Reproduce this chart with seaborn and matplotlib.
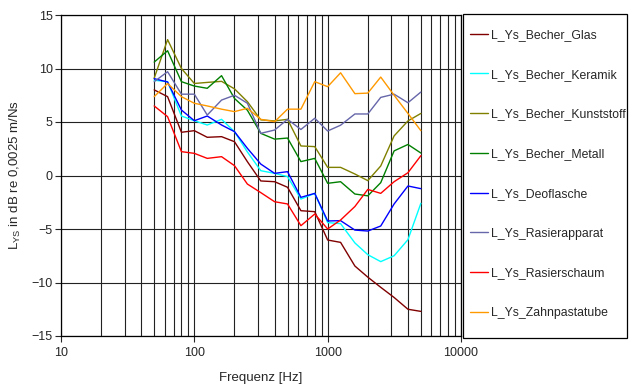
import numpy as np
import pandas as pd
import matplotlib
matplotlib.use("Agg")
import matplotlib.pyplot as plt
from matplotlib.patches import Rectangle
import seaborn as sns

freqs = [50, 63, 80, 100, 125, 160, 200, 250, 315, 400, 500, 630, 800,
         1000, 1250, 1600, 2000, 2500, 3150, 4000, 5000]

glas = [8.0, 7.37, 4.04, 4.19, 3.57, 3.63, 3.16, 1.29, -0.51, -0.58, -1.1,
        -3.29, -3.38, -6.03, -6.25, -8.46, -9.5, -10.45, -11.4, -12.5, -12.7]
keramik = [8.9, 8.77, 5.56, 5.12, 4.72, 5.25, 4.1, 2.2, 0.45, 0.2, -0.1,
           -2.2, -1.67, -4.4, -4.5, -6.3, -7.4, -8.05, -7.5, -6.0, -2.6]
kunststoff = [9.1, 12.7, 10.0, 8.6, 8.7, 8.8, 8.1, 6.9, 5.2, 5.1, 5.25,
              2.76, 2.7, 0.76, 0.76, 0.14, -0.48, 0.89, 3.7, 5.1, 5.8]
metall = [10.6, 11.66, 8.77, 8.36, 8.15, 9.33, 7.2, 6.1, 3.94, 3.4, 3.5,
          1.3, 1.6, -0.73, -0.58, -1.73, -1.9, -0.67, 2.3, 2.9, 2.1]
deoflasche = [9.05, 8.74, 6.12, 5.12, 5.56, 4.72, 4.1, 2.54, 1.07, 0.2, 0.36,
              -2.04, -1.67, -4.25, -4.22, -5.1, -5.19, -4.72, -2.66, -0.98, -1.23]
rasierapparat = [8.77, 9.7, 7.6, 7.6, 5.65, 7.05, 7.5, 6.75, 3.94, 4.25, 5.25,
                 4.3, 5.35, 4.16, 4.7, 5.75, 5.75, 7.3, 7.6, 6.8, 7.8]
rasierschaum = [6.5, 5.5, 2.23, 2.07, 1.6, 1.76, 0.92, -0.8, -1.6, -2.45, -2.66,
                -4.69, -3.6, -5.0, -4.16, -2.9, -1.3, -1.67, -0.58, 0.26, 1.85]
zahnpastatube = [7.37, 8.6, 7.37, 6.75, 6.5, 6.2, 5.97, 6.28, 5.25, 5.03, 6.2,
                 6.2, 8.77, 8.3, 9.6, 7.65, 7.7, 9.2, 7.5, 5.8, 4.19]

names = ["L_Ys_Becher_Glas", "L_Ys_Becher_Keramik", "L_Ys_Becher_Kunststoff",
         "L_Ys_Becher_Metall", "L_Ys_Deoflasche", "L_Ys_Rasierapparat",
         "L_Ys_Rasierschaum", "L_Ys_Zahnpastatube"]
series = [glas, keramik, kunststoff, metall, deoflasche, rasierapparat,
          rasierschaum, zahnpastatube]
colors = ["#800000", "#00FFFF", "#808000", "#008000", "#0000FF", "#6666AA",
          "#FF0000", "#FF9900"]

df = pd.concat([pd.DataFrame({"f": freqs, "L": v, "Serie": n})
                for n, v in zip(names, series)], ignore_index=True)

sns.set_style("white")
plt.rcParams["font.family"] = ["Liberation Sans", "DejaVu Sans"]
plt.rcParams["mathtext.fontset"] = "custom"
plt.rcParams["mathtext.rm"] = "Liberation Sans"
plt.rcParams["mathtext.it"] = "Liberation Sans"

W, H = 629, 385
fig = plt.figure(figsize=(W/100, H/100), dpi=100)
ax = fig.add_axes([61/W, 1-336/H, 400/W, 321/H])

sns.lineplot(data=df, x="f", y="L", hue="Serie", palette=dict(zip(names, colors)),
             ax=ax, linewidth=1.0, legend=False)

ax.set_xscale("log")
ax.set_xlim(10, 10000)
ax.set_ylim(-15, 15)
ax.set_yticks(np.arange(-15, 16, 5))
ax.set_xticks([10, 100, 1000, 10000])
ax.set_xticklabels(["10", "100", "1000", "10000"])
ax.xaxis.set_minor_locator(matplotlib.ticker.LogLocator(base=10, subs=np.arange(2, 10)))
ax.xaxis.set_minor_formatter(matplotlib.ticker.NullFormatter())
ax.grid(True, which="both", axis="x", color="#222222", linewidth=0.8)
ax.grid(True, which="major", axis="y", color="#222222", linewidth=0.8)
ax.set_axisbelow(True)
for s in ax.spines.values():
    s.set_color("black")
    s.set_linewidth(0.9)
ax.tick_params(axis="y", which="major", direction="out", length=4, width=0.8,
               left=True, labelsize=9, pad=2)
ax.tick_params(axis="x", which="major", direction="out", length=4, width=0.8,
               bottom=True, labelsize=9, pad=4)
ax.tick_params(axis="x", which="minor", length=0)
ax.set_xlabel("Frequenz [Hz]", fontsize=9.5, labelpad=9)
ax.set_ylabel(r"L$_{\mathrm{YS}}$ in dB re 0,0025 m/Ns", fontsize=9.5, labelpad=6)

# legend frame
fig.patches.append(Rectangle((463/W, 1-338/H), 164/W, 324/H, transform=fig.transFigure,
                             fill=False, edgecolor="black", linewidth=0.9))
handles = [plt.Line2D([], [], color=c, linewidth=1.0) for c in colors]
leg = fig.legend(handles, names, loc="upper left",
                 bbox_to_anchor=(470/W, 1-29/H), frameon=False,
                 fontsize=8.8, labelspacing=2.27,
                 handlelength=1.5, handletextpad=0.2, borderpad=0,
                 borderaxespad=0)

fig.savefig("out.png", dpi=100)
